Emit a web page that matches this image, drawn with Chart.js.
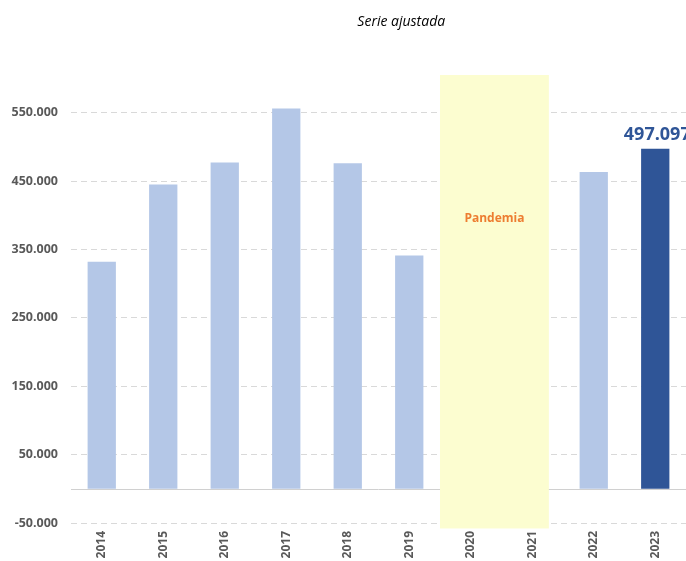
<!DOCTYPE html>
<html>
<head>
<meta charset="utf-8">
<script src="https://cdn.jsdelivr.net/npm/chart.js@4"></script>
<style>
html,body{margin:0;padding:0;background:#fff;}
#wrap{width:686px;height:561px;position:relative;}
</style>
</head>
<body>
<div id="wrap"><canvas id="c" width="686" height="561"></canvas></div>
<script>
const years = ['2014','2015','2016','2017','2018','2019','2020','2021','2022','2023'];
const values = [332000, 445000, 477000, 556000, 476000, 341000, null, null, 463000, 497097];
const yTicks = [-50000, 50000, 150000, 250000, 350000, 450000, 550000];
const titleText = 'Serie ajustada';
const bandLabel = 'Pandemia';
const bandStart = 5.5, bandEnd = 7.27, bandLow = -58000, bandHigh = 605000;
const highlightIndex = 9;

const fmt = v => {
  const s = Math.abs(v).toString().replace(/\B(?=(\d{3})+(?!\d))/g, '.');
  return (v < 0 ? '-' : '') + s;
};

const barColors = values.map((v, i) => i === highlightIndex ? '#2F5597' : '#B4C7E7');

const extras = {
  id: 'extras',
  beforeDatasetsDraw(chart) {
    const {ctx, chartArea, scales: {x, y}} = chart;
    ctx.save();
    const y0 = Math.round(y.getPixelForValue(0)) + 0.5;
    ctx.strokeStyle = '#D0D0D0';
    ctx.lineWidth = 1;
    ctx.beginPath();
    ctx.moveTo(chartArea.left, y0);
    ctx.lineTo(chartArea.right, y0);
    ctx.stroke();
    const l = x.getPixelForValue(bandStart), r = x.getPixelForValue(bandEnd);
    const t = y.getPixelForValue(bandHigh), b = y.getPixelForValue(bandLow);
    ctx.fillStyle = '#FCFDD0';
    ctx.fillRect(l, t, r - l, b - t);
    ctx.fillStyle = '#ED7D31';
    ctx.font = 'bold 12px "Open Sans", sans-serif';
    ctx.textAlign = 'center';
    ctx.textBaseline = 'middle';
    ctx.fillText(bandLabel, (l + r) / 2, y.getPixelForValue(395000));
    ctx.restore();
  },
  afterDatasetsDraw(chart) {
    const {ctx, chartArea} = chart;
    ctx.save();
    const bar = chart.getDatasetMeta(0).data[highlightIndex];
    ctx.fillStyle = '#2F5597';
    ctx.font = 'bold 18px "Open Sans", sans-serif';
    ctx.textAlign = 'center';
    ctx.textBaseline = 'bottom';
    ctx.fillText(fmt(values[highlightIndex]), bar.x + 2, bar.y - 5);
    ctx.fillStyle = '#000';
    ctx.font = 'italic 14px "Open Sans", sans-serif';
    ctx.textBaseline = 'middle';
    ctx.fillText(titleText, chartArea.left + (chartArea.right - chartArea.left) * 0.537, 22);
    ctx.restore();
  }
};

new Chart(document.getElementById('c'), {
  type: 'bar',
  data: {
    labels: years,
    datasets: [{
      data: values,
      backgroundColor: barColors,
      barPercentage: 0.46,
      categoryPercentage: 1.0
    }]
  },
  options: {
    responsive: false,
    animation: false,
    layout: { padding: { top: 75, right: 0, left: 0, bottom: 0 } },
    plugins: { legend: { display: false }, tooltip: { enabled: false }, title: { display: false } },
    scales: {
      x: {
        grid: { display: false, drawTicks: false },
        border: { display: false },
        ticks: {
          minRotation: 90, maxRotation: 90, padding: 8,
          color: '#595959',
          font: { family: '"Open Sans", sans-serif', size: 12, weight: 'bold' }
        },
        afterFit(s) { s.height = 38; }
      },
      y: {
        min: -50000, max: 605000,
        grid: { color: '#D9D9D9', drawTicks: false, lineWidth: 1 },
        border: { display: false, dash: [6, 4] },
        ticks: {
          padding: 13,
          color: '#595959',
          font: { family: '"Open Sans", sans-serif', size: 12.5, weight: 'bold' },
          callback: v => fmt(v)
        },
        afterBuildTicks(s) { s.ticks = yTicks.map(v => ({ value: v })); },
        afterFit(s) { s.width = 71; }
      }
    }
  },
  plugins: [extras]
});
</script>
</body>
</html>
